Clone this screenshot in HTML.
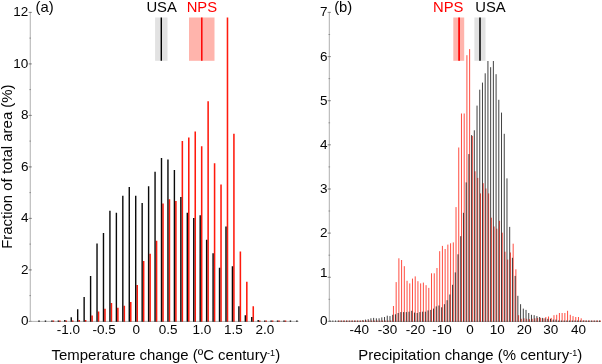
<!DOCTYPE html>
<html><head><meta charset="utf-8"><title>Figure</title>
<style>html,body{margin:0;padding:0;background:#fff;width:602px;height:364px;overflow:hidden}</style></head>
<body>
<svg width="602" height="364" viewBox="0 0 602 364" style="display:block;position:absolute;left:0;top:0;will-change:transform">
<rect width="602" height="364" fill="#fff"/>
<g font-family="Liberation Sans, Arial, Helvetica, sans-serif" font-size="13.5" fill="#050505">
<path d="M30.25 12V321.4" stroke="#b0b0b0" stroke-width="1" fill="none"/><path d="M28.6 321.4h3.4M28.6 269.9h3.4M28.6 218.4h3.4M28.6 166.9h3.4M28.6 115.4h3.4M28.6 63.9h3.4M28.6 12.4h3.4M29.4 321.4h1.6M29.4 295.6h1.6M29.4 269.9h1.6M29.4 244.1h1.6M29.4 218.4h1.6M29.4 192.6h1.6M29.4 166.9h1.6M29.4 141.1h1.6M29.4 115.4h1.6M29.4 89.6h1.6M29.4 63.9h1.6M29.4 38.1h1.6M29.4 12.4h1.6" stroke="#777" stroke-width="0.7" fill="none"/><text x="28.4" y="325.3" text-anchor="end">0</text><text x="28.4" y="273.8" text-anchor="end">2</text><text x="28.4" y="222.3" text-anchor="end">4</text><text x="28.4" y="170.8" text-anchor="end">6</text><text x="28.4" y="119.3" text-anchor="end">8</text><text x="28.4" y="67.8" text-anchor="end">10</text><text x="28.4" y="16.3" text-anchor="end">12</text>
<path d="M329.3 12V321.4" stroke="#b0b0b0" stroke-width="1" fill="none"/><path d="M327.6 321.4h3.4M327.6 277.3h3.4M327.6 233.1h3.4M327.6 189.0h3.4M327.6 144.8h3.4M327.6 100.7h3.4M327.6 56.6h3.4M327.6 12.4h3.4M328.5 321.4h1.6M328.5 299.3h1.6M328.5 277.3h1.6M328.5 255.2h1.6M328.5 233.1h1.6M328.5 211.0h1.6M328.5 189.0h1.6M328.5 166.9h1.6M328.5 144.8h1.6M328.5 122.8h1.6M328.5 100.7h1.6M328.5 78.6h1.6M328.5 56.6h1.6M328.5 34.5h1.6M328.5 12.4h1.6" stroke="#777" stroke-width="0.7" fill="none"/><text x="327.5" y="325.3" text-anchor="end">0</text><text x="327.5" y="277.4" text-anchor="end">1</text><text x="327.5" y="237.0" text-anchor="end">2</text><text x="327.5" y="192.9" text-anchor="end">3</text><text x="327.5" y="148.7" text-anchor="end">4</text><text x="327.5" y="104.6" text-anchor="end">5</text><text x="327.5" y="60.5" text-anchor="end">6</text><text x="327.5" y="16.3" text-anchor="end">7</text>
<path d="M30.25 321.4H298.5M329.3 321.4H601" stroke="#aaa" stroke-width="0.9" fill="none"/>
<text x="68.5" y="333.9" text-anchor="middle">-1.0</text>
<text x="104.2" y="333.9" text-anchor="middle">-0.5</text>
<text x="136.2" y="333.9" text-anchor="middle">0</text>
<text x="168.2" y="333.9" text-anchor="middle">0.5</text>
<text x="201.8" y="333.9" text-anchor="middle">1.0</text>
<text x="233.3" y="333.9" text-anchor="middle">1.5</text>
<text x="265" y="333.9" text-anchor="middle">2.0</text>
<text x="359.2" y="333.9" text-anchor="middle">-40</text>
<text x="387.4" y="333.9" text-anchor="middle">-30</text>
<text x="415.4" y="333.9" text-anchor="middle">-20</text>
<text x="441.9" y="333.9" text-anchor="middle">-10</text>
<text x="470.1" y="333.9" text-anchor="middle">0</text>
<text x="497.2" y="333.9" text-anchor="middle">10</text>
<text x="524.3" y="333.9" text-anchor="middle">20</text>
<text x="550.8" y="333.9" text-anchor="middle">30</text>
<text x="578.5" y="333.9" text-anchor="middle">40</text>
</g>
<g font-family="Liberation Sans, Arial, Helvetica, sans-serif" font-size="14.8" fill="#050505">
<text x="35.6" y="11.8">(a)</text><text x="334.2" y="11.8">(b)</text>
<text x="161.6" y="11.7" text-anchor="middle">USA</text><text x="201.9" y="11.7" text-anchor="middle" fill="#f00">NPS</text>
<text x="448.2" y="11.7" text-anchor="middle" fill="#f00">NPS</text><text x="490.5" y="11.7" text-anchor="middle">USA</text>
<text x="51.6" y="359.9" font-size="14.95">Temperature change (ºC century<tspan font-size="9" dy="-4.3">-1</tspan><tspan dy="4.3">)</tspan></text>
<text x="358.3" y="359.9" font-size="14.95">Precipitation change (% century<tspan font-size="9" dy="-4.3">-1</tspan><tspan dy="4.3">)</tspan></text>
<text transform="translate(12.3 248.8) rotate(-90)" font-size="14.95">Fraction of total area (%)</text>
</g>
<rect x="155.1" y="17.5" width="12.4" height="43.3" fill="#e2e2e2"/><path d="M161.3 17.5V60.8" stroke="#000" stroke-width="1.4"/>
<rect x="189" y="17.5" width="25.5" height="43.3" fill="#ffb4ac"/><path d="M201.8 17.5V60.8" stroke="#f00" stroke-width="1.5"/>
<rect x="453.3" y="17.5" width="10.9" height="43.3" fill="#ffb4ac"/><path d="M459.1 17.5V60.8" stroke="#f00" stroke-width="1.7"/>
<rect x="474.4" y="17.5" width="11.1" height="43.3" fill="#e2e2e2"/><path d="M480 17.5V60.8" stroke="#000" stroke-width="1.5"/>
<path d="M39.01 321.8v-1.2M45.46 321.8v-1.2M51.91 321.8v-1.2M58.35 321.8v-1.2M64.80 321.8v-1.7M71.25 321.8v-4.5M77.69 321.8v-12.5M84.14 321.8v-24.9M90.59 321.8v-45.7M97.03 321.8v-78.4M103.48 321.8v-88.7M109.93 321.8v-111.1M116.38 321.8v-109.1M122.82 321.8v-126.1M129.27 321.8v-134.8M135.72 321.8v-126.1M142.16 321.8v-118.8M148.61 321.8v-135.6M155.06 321.8v-150.0M161.50 321.8v-163.9M167.95 321.8v-162.4M174.40 321.8v-151.8M180.85 321.8v-124.8M187.29 321.8v-109.1M193.74 321.8v-103.9M200.19 321.8v-106.5M206.63 321.8v-82.0M213.08 321.8v-68.6M219.53 321.8v-54.0M225.98 321.8v-95.2M232.42 321.8v-55.5M238.87 321.8v-15.6M245.32 321.8v-6.6M251.76 321.8v-4.8M258.21 321.8v-1.7M264.66 321.8v-1.2M271.10 321.8v-1.2M277.55 321.8v-1.2M284.00 321.8v-1.2M290.44 321.8v-1.2M296.89 321.8v-1.2" stroke="#0a0a0a" stroke-width="1.4" fill="none"/>
<path d="M53.41 321.8v-1.2M59.85 321.8v-1.2M66.30 321.8v-1.2M72.75 321.8v-1.2M79.19 321.8v-1.7M85.64 321.8v-1.7M92.09 321.8v-6.3M98.53 321.8v-10.2M104.98 321.8v-13.0M111.43 321.8v-18.9M117.88 321.8v-14.0M124.32 321.8v-16.1M130.77 321.8v-19.7M137.22 321.8v-36.7M143.66 321.8v-60.9M150.11 321.8v-68.1M156.56 321.8v-81.0M163.00 321.8v-118.3M169.45 321.8v-122.5M175.90 321.8v-120.9M182.35 321.8v-180.9M188.79 321.8v-184.3M195.24 321.8v-190.2M201.69 321.8v-175.5M208.13 321.8v-220.6M214.58 321.8v-158.5M221.03 321.8v-137.4M227.48 321.8v-304.2M233.92 321.8v-188.1M240.37 321.8v-70.4M246.82 321.8v-40.1M253.26 321.8v-15.6M259.71 321.8v-1.2M266.16 321.8v-1.2M272.60 321.8v-1.2M279.05 321.8v-1.2M285.50 321.8v-1.2" stroke="#ff1a0d" stroke-width="1.55" fill="none" style="mix-blend-mode:multiply"/>
<path d="M330.11 321.8v-1.3M332.83 321.8v-1.3M335.55 321.8v-1.3M338.27 321.8v-1.3M340.99 321.8v-1.3M343.71 321.8v-1.3M346.43 321.8v-1.3M349.15 321.8v-1.3M351.88 321.8v-1.3M354.60 321.8v-1.3M357.32 321.8v-1.3M360.04 321.8v-1.3M362.76 321.8v-1.7M365.48 321.8v-2.2M368.20 321.8v-2.6M370.92 321.8v-3.5M373.64 321.8v-3.9M376.36 321.8v-3.5M379.08 321.8v-3.5M381.81 321.8v-4.4M384.53 321.8v-4.8M387.25 321.8v-6.1M389.97 321.8v-5.7M392.69 321.8v-7.0M395.41 321.8v-7.5M398.13 321.8v-8.8M400.85 321.8v-9.7M403.57 321.8v-9.7M406.30 321.8v-9.7M409.02 321.8v-10.1M411.74 321.8v-11.0M414.46 321.8v-9.2M417.18 321.8v-8.8M419.90 321.8v-9.7M422.62 321.8v-10.1M425.34 321.8v-10.1M428.06 321.8v-11.4M430.78 321.8v-11.9M433.50 321.8v-13.2M436.23 321.8v-15.4M438.95 321.8v-16.3M441.67 321.8v-14.5M444.39 321.8v-17.6M447.11 321.8v-21.6M449.83 321.8v-27.3M452.55 321.8v-37.0M455.27 321.8v-49.4M457.99 321.8v-67.5M460.72 321.8v-85.6M463.44 321.8v-109.0M466.16 321.8v-139.4M468.88 321.8v-167.7M471.60 321.8v-186.7M474.32 321.8v-191.5M477.04 321.8v-216.2M479.76 321.8v-232.1M482.48 321.8v-239.2M485.20 321.8v-248.5M487.93 321.8v-260.8M490.65 321.8v-254.6M493.37 321.8v-260.8M496.09 321.8v-247.6M498.81 321.8v-222.0M501.53 321.8v-209.2M504.25 321.8v-188.0M506.97 321.8v-143.4M509.69 321.8v-94.9M512.41 321.8v-64.0M515.13 321.8v-45.9M517.86 321.8v-26.0M520.58 321.8v-17.6M523.30 321.8v-13.2M526.02 321.8v-11.9M528.74 321.8v-8.8M531.46 321.8v-7.0M534.18 321.8v-6.6M536.90 321.8v-5.7M539.62 321.8v-4.8M542.35 321.8v-3.9M545.07 321.8v-3.5M547.79 321.8v-3.0M550.51 321.8v-3.0M553.23 321.8v-2.2M555.95 321.8v-2.2M558.67 321.8v-1.3M561.39 321.8v-1.3M564.11 321.8v-1.3M566.83 321.8v-1.3M569.56 321.8v-1.3M572.28 321.8v-1.3M575.00 321.8v-1.3M577.72 321.8v-1.3M580.44 321.8v-1.3M583.16 321.8v-1.3M585.88 321.8v-1.3M588.60 321.8v-1.3M591.32 321.8v-1.3M594.04 321.8v-1.3M596.76 321.8v-1.3M599.49 321.8v-1.3" stroke="#111" stroke-width="0.8" fill="none"/>
<path d="M339.02 321.8v-1.3M341.74 321.8v-1.3M344.46 321.8v-1.3M347.18 321.8v-1.3M349.90 321.8v-1.3M352.62 321.8v-1.3M355.35 321.8v-1.3M358.07 321.8v-1.3M360.79 321.8v-1.3M363.51 321.8v-1.3M366.23 321.8v-1.3M368.95 321.8v-1.3M371.67 321.8v-1.3M374.39 321.8v-1.3M377.11 321.8v-1.3M379.83 321.8v-1.3M382.56 321.8v-1.3M385.28 321.8v-1.3M388.00 321.8v-1.3M390.72 321.8v-1.3M393.44 321.8v-15.8M396.16 321.8v-39.7M398.88 321.8v-63.5M401.60 321.8v-61.8M404.32 321.8v-55.6M407.05 321.8v-41.0M409.77 321.8v-38.4M412.49 321.8v-43.2M415.21 321.8v-45.4M417.93 321.8v-40.6M420.65 321.8v-38.4M423.37 321.8v-39.2M426.09 321.8v-36.6M428.81 321.8v-33.9M431.53 321.8v-48.5M434.25 321.8v-48.5M436.98 321.8v-53.8M439.70 321.8v-70.6M442.42 321.8v-75.9M445.14 321.8v-72.8M447.86 321.8v-77.2M450.58 321.8v-78.5M453.30 321.8v-79.4M456.02 321.8v-114.7M458.74 321.8v-174.3M461.47 321.8v-208.3M464.19 321.8v-208.3M466.91 321.8v-266.6M469.63 321.8v-272.7M472.35 321.8v-185.8M475.07 321.8v-150.5M477.79 321.8v-143.9M480.51 321.8v-128.4M483.23 321.8v-138.6M485.95 321.8v-133.3M488.68 321.8v-128.4M491.40 321.8v-104.1M494.12 321.8v-95.3M496.84 321.8v-93.1M499.56 321.8v-101.0M502.28 321.8v-89.1M505.00 321.8v-70.1M507.72 321.8v-62.2M510.44 321.8v-69.3M513.16 321.8v-78.1M515.88 321.8v-52.5M518.61 321.8v-6.6M521.33 321.8v-3.0M524.05 321.8v-3.5M526.77 321.8v-3.0M529.49 321.8v-2.6M532.21 321.8v-3.0M534.93 321.8v-3.5M537.65 321.8v-3.9M540.37 321.8v-3.9M543.10 321.8v-3.5M545.82 321.8v-4.8M548.54 321.8v-5.3M551.26 321.8v-3.9M553.98 321.8v-6.6M556.70 321.8v-7.0M559.42 321.8v-8.8M562.14 321.8v-8.8M564.86 321.8v-8.8M567.58 321.8v-11.0M570.31 321.8v-7.0M573.03 321.8v-5.7M575.75 321.8v-4.8M578.47 321.8v-4.8M581.19 321.8v-3.5M583.91 321.8v-1.7M586.63 321.8v-1.3M589.35 321.8v-1.3M592.07 321.8v-1.3M594.79 321.8v-1.3M597.51 321.8v-1.3M600.24 321.8v-1.3" stroke="#ff2010" stroke-width="0.8" fill="none" style="mix-blend-mode:multiply"/>
</svg>
</body></html>
